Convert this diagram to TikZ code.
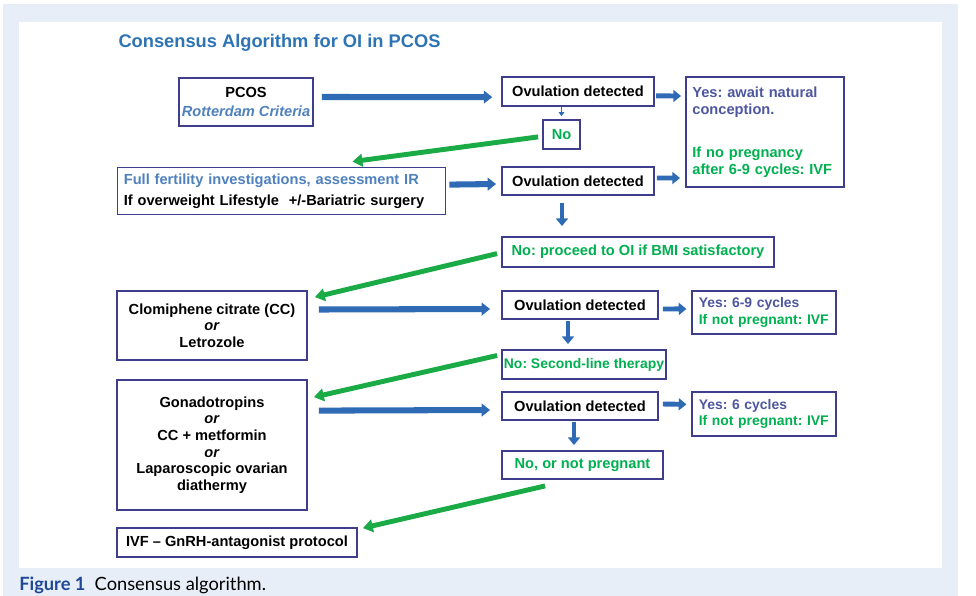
\documentclass[tikz,border=0pt]{standalone}
\usepackage{fontspec}
\setmainfont{Liberation Sans}
\newfontfamily\capfont{Lato}
\usetikzlibrary{arrows.meta}
\frenchspacing

\definecolor{bgblue}{RGB}{232,238,248}
\definecolor{frameblue}{RGB}{62,62,140}
\definecolor{arrowblue}{RGB}{47,106,180}
\definecolor{titleblue}{RGB}{46,116,181}
\definecolor{lightblue}{RGB}{79,129,189}
\definecolor{yesblue}{RGB}{78,86,160}
\definecolor{textgreen}{RGB}{0,176,80}
\definecolor{arrowgreen}{RGB}{26,170,70}
\definecolor{capblue}{RGB}{31,73,150}

\newcommand{\boxfont}{\fontsize{10.4}{11.8}\selectfont\bfseries}
\newcommand{\smallboxfont}{\fontsize{9.9}{11.8}\selectfont\bfseries}

\tikzset{
	box/.style={draw=frameblue, line width=1.3pt, fill=white, inner sep=0pt, align=center, font=\boxfont},
	leftbox/.style={box, align=left, inner xsep=0.16cm},
	bluearrow/.style={draw=arrowblue, line width=4.3pt, -{Triangle[width=9pt,length=6pt]}},
	shortarrow/.style={draw=arrowblue, line width=3.5pt, -{Triangle[width=8.5pt,length=5.5pt]}},
	thinarrow/.style={draw=arrowblue, line width=1.4pt, -{Triangle[width=4pt,length=3pt]}},
	greenarrow/.style={draw=arrowgreen, line width=3.5pt, -{Triangle[width=9pt,length=7pt]}},
}

\begin{document}
\begin{tikzpicture}[x=0.025cm, y=-0.025cm]
	% Background panel
	\useasboundingbox (0,0) rectangle (976,595);
	\fill[bgblue] (3,4) rectangle (958,600);
	\fill[white] (19,22) rectangle (942,568);

	\node[font=\fontsize{13}{15}\selectfont\bfseries, text=titleblue] (title) at (279.5,43) {Consensus Algorithm for OI in PCOS};

	% Define the boxes with specific positions
	\node[box, minimum width=3.35cm, minimum height=1.2cm] (pcos) at (246,102) {PCOS\\[2pt]\textcolor{lightblue}{\itshape Rotterdam Criteria}};
	\node[box, minimum width=3.8cm, minimum height=0.725cm] (od1) at (578,91.5) {Ovulation detected};
	\node[box, minimum width=0.925cm, minimum height=0.725cm, text=textgreen] (no1) at (561.5,134.5) {No};
	\node[leftbox, text width=3.63cm, minimum height=2.75cm] (yes1) at (765,132) {\textcolor{yesblue}{Yes: await natural}\\\textcolor{yesblue}{conception.}\\[19pt]\textcolor{textgreen}{If no pregnancy}\\\textcolor{textgreen}{after 6-9 cycles: IVF}};

	\node[leftbox, text width=7.88cm, minimum height=1.175cm] (full) at (281.5,191) {\textcolor{lightblue}{Full fertility investigations, assessment IR}\\[3pt]If overweight Lifestyle\ \ +/-Bariatric surgery};
	\node[box, minimum width=3.8cm, minimum height=0.7cm] (od2) at (578,181) {Ovulation detected};
	\node[box, minimum width=6.8cm, minimum height=0.75cm, text=textgreen] (noproc) at (638,252) {No: proceed to OI if BMI satisfactory};

	\node[box, minimum width=4.75cm, minimum height=1.725cm] (cc) at (212,325.5) {Clomiphene citrate (CC)\\\textit{or}\\Letrozole};
	\node[box, minimum width=3.9cm, minimum height=0.7cm] (od3) at (580,305) {Ovulation detected};
	\node[leftbox, font=\smallboxfont, text width=3.26cm, minimum height=1.075cm] (yes2) at (764,312.5) {\textcolor{yesblue}{Yes: 6-9 cycles}\\\textcolor{textgreen}{If not pregnant: IVF}};
	\node[box, font=\smallboxfont, minimum width=4.1cm, minimum height=0.725cm, text=textgreen] (second) at (584,364.5) {No: Second-line therapy};

	\node[box, minimum width=4.75cm, minimum height=3.25cm] (gon) at (212,445) {Gonadotropins\\\textit{or}\\CC + metformin\\\textit{or}\\Laparoscopic ovarian\\diathermy};
	\node[box, minimum width=3.9cm, minimum height=0.7cm] (od4) at (580,406) {Ovulation detected};
	\node[leftbox, font=\smallboxfont, text width=3.26cm, minimum height=1.1cm] (yes3) at (764,414) {\textcolor{yesblue}{Yes: 6 cycles}\\\textcolor{textgreen}{If not pregnant: IVF}};
	\node[box, minimum width=4.025cm, minimum height=0.7cm, text=textgreen] (notpreg) at (582.5,465) {No, or not pregnant};

	\node[box, minimum width=6cm, minimum height=0.725cm] (ivf) at (237,542.5) {IVF -- GnRH-antagonist protocol};

	% Draw the blue arrows between the boxes
	\draw[bluearrow] ([shift={(0.2cm,0.125cm)}]pcos.east) -- ([shift={(-0.22cm,-0.14cm)}]od1.west);
	\draw[thinarrow, shorten >=2pt] (no1.north |- od1.south) -- (no1.north);
	\draw[shortarrow] ([shift={(0.03cm,-0.11cm)}]od1.east) -- ([shift={(-0.1cm,0.9cm)}]yes1.west);
	\draw[bluearrow] ([shift={(0.075cm,0.16cm)}]full.east) -- ([shift={(-0.125cm,-0.075cm)}]od2.west);
	\draw[shortarrow] ([shift={(0.05cm,0.075cm)}]od2.east) -- ([shift={(-0.125cm,-1.15cm)}]yes1.west);
	\draw[shortarrow, shorten <=0.18cm, shorten >=0.25cm] ([xshift=-0.4cm]od2.south) -- ([xshift=-0.4cm]od2.south |- noproc.north);
	\draw[bluearrow] ([shift={(0.275cm,0.4cm)}]cc.east) -- ([shift={(-0.275cm,-0.1cm)}]od3.west);
	\draw[shortarrow] ([shift={(0.1cm,-0.1cm)}]od3.east) -- ([shift={(-0.125cm,0.09cm)}]yes2.west);
	\draw[shortarrow, shorten <=1pt, shorten >=0.125cm] ([xshift=-0.3cm]od3.south) -- ([xshift=-0.3cm]od3.south |- second.north);
	\draw[bluearrow] ([shift={(0.275cm,0.86cm)}]gon.east) -- ([shift={(-0.275cm,-0.1cm)}]od4.west);
	\draw[shortarrow] ([shift={(0.1cm,0.05cm)}]od4.east) -- ([shift={(-0.125cm,0.24cm)}]yes3.west);
	\draw[shortarrow, shorten <=1pt, shorten >=0.125cm] ([xshift=-0.15cm]od4.south) -- ([xshift=-0.15cm]od4.south |- notpreg.north);

	% Draw the green arrows back to the left column
	\draw[greenarrow] ([shift={(-0.1cm,-0.06cm)}]no1.west) -- ([shift={(1.775cm,0.125cm)}]full.north);
	\draw[greenarrow] ([shift={(-0.1cm,-0.04cm)}]noproc.west) -- ([shift={(0.175cm,-0.175cm)}]cc.north east);
	\draw[greenarrow] ([shift={(-0.1cm,0.225cm)}]second.west) -- ([shift={(0.15cm,-0.45cm)}]gon.north east);
	\draw[greenarrow] ([shift={(1.1cm,-0.15cm)}]notpreg.south west) -- ([shift={(0.125cm,-0.025cm)}]ivf.north east);

	\node[anchor=base west, inner sep=0pt, font=\capfont\fontsize{13}{15}\selectfont] (caption) at (19,590.5) {\textcolor{capblue}{\bfseries Figure 1}\enspace Consensus algorithm.};
\end{tikzpicture}
\end{document}
